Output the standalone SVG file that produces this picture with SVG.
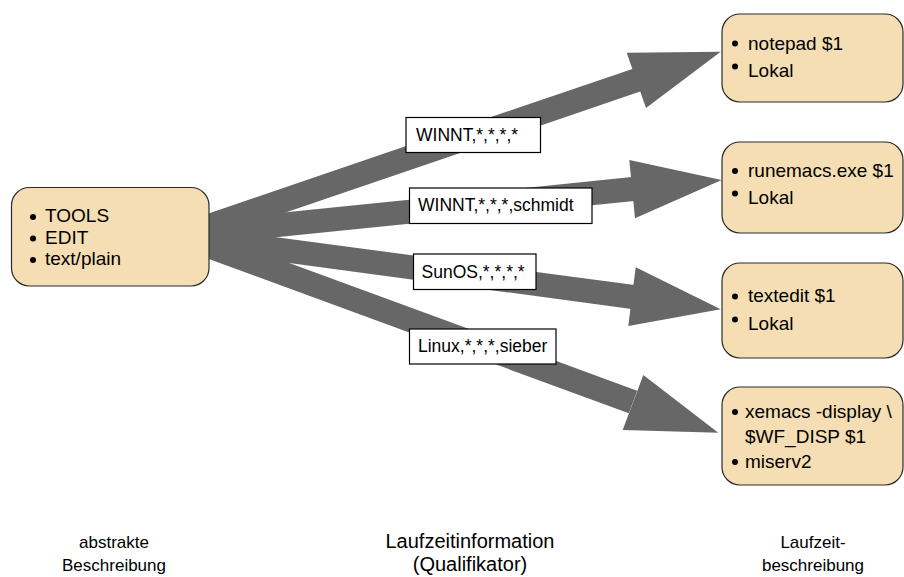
<svg xmlns="http://www.w3.org/2000/svg" width="904" height="577" viewBox="0 0 904 577">
<style>
.box{fill:#f5deb3;stroke:#2a2a2a;stroke-width:1.2}
.t{font-family:"Liberation Sans",Arial,sans-serif;font-size:19px;fill:#000}
.lt{font-family:"Liberation Sans",Arial,sans-serif;font-size:17.5px;fill:#000}
.bt{font-family:"Liberation Sans",Arial,sans-serif;font-size:17px;fill:#000;text-anchor:middle}
.bm{font-size:20px}
.shaft{stroke:#676767;stroke-width:24;stroke-linecap:butt}
.head{fill:#676767}
.lbl{fill:#fff;stroke:#000;stroke-width:1.2}
.bul{fill:#000}
</style>
<rect width="904" height="577" fill="#fff"/>
<g id="connectors">
  <line class="shaft" x1="200" y1="229" x2="637" y2="80"/>
  <polygon class="head" points="626.7,52.7 720.7,51.7 646,108"/>
  <line class="shaft" x1="200" y1="233" x2="633" y2="189"/>
  <polygon class="head" points="629.3,160 721.7,180 635,218.3"/>
  <line class="shaft" x1="200" y1="239" x2="633" y2="297"/>
  <polygon class="head" points="635.7,267.3 720.7,309.3 628.3,326"/>
  <line class="shaft" x1="200" y1="243" x2="633" y2="402"/>
  <polygon class="head" points="643.3,375 718.3,432.7 622.7,430"/>
  <g id="label1"><rect class="lbl" x="406" y="117.5" width="134.5" height="35"/><text class="lt" x="416" y="141">WINNT,*,*,*,*</text></g>
  <g id="label2"><rect class="lbl" x="409.5" y="188" width="182.5" height="35.5"/><text class="lt" x="418" y="211">WINNT,*,*,*,schmidt</text></g>
  <g id="label3"><rect class="lbl" x="413.5" y="254" width="122.5" height="35.5"/><text class="lt" x="421.5" y="278">SunOS,*,*,*,*</text></g>
  <g id="label4"><rect class="lbl" x="409.5" y="329" width="146.5" height="35"/><text class="lt" x="418" y="352">Linux,*,*,*,sieber</text></g>
</g>
<g id="source">
  <rect class="box" x="11.5" y="187.5" width="197.5" height="98.5" rx="18"/>
  <circle class="bul" cx="33" cy="217" r="3"/><text class="t" x="45" y="222">TOOLS</text>
  <circle class="bul" cx="33" cy="238.5" r="3"/><text class="t" x="45" y="243.5">EDIT</text>
  <circle class="bul" cx="33" cy="260" r="3"/><text class="t" x="45" y="265">text/plain</text>
</g>
<g id="target1">
  <rect class="box" x="722" y="14" width="181" height="88" rx="18"/>
  <circle class="bul" cx="735" cy="43.5" r="3"/><text class="t" x="748" y="49.5">notepad $1</text>
  <circle class="bul" cx="735" cy="66.5" r="3"/><text class="t" x="748" y="76.5">Lokal</text>
</g>
<g id="target2">
  <rect class="box" x="722" y="142" width="181" height="91" rx="18"/>
  <circle class="bul" cx="735" cy="171" r="3"/><text class="t" x="748" y="176.5">runemacs.exe $1</text>
  <circle class="bul" cx="735" cy="193.5" r="3"/><text class="t" x="748" y="203.5">Lokal</text>
</g>
<g id="target3">
  <rect class="box" x="722" y="263" width="181" height="95" rx="18"/>
  <circle class="bul" cx="735" cy="296.5" r="3"/><text class="t" x="748" y="302">textedit $1</text>
  <circle class="bul" cx="735" cy="319.5" r="3"/><text class="t" x="748" y="329.5">Lokal</text>
</g>
<g id="target4">
  <rect class="box" x="722" y="387" width="181" height="98" rx="18"/>
  <circle class="bul" cx="735" cy="412" r="3"/><text class="t" x="745" y="417.5">xemacs -display \</text>
  <text class="t" x="745" y="442.5">$WF_DISP $1</text>
  <circle class="bul" cx="735" cy="462" r="3"/><text class="t" x="745" y="467.5">miserv2</text>
</g>
<g id="captions">
  <text class="bt" x="114" y="548">abstrakte</text>
  <text class="bt" x="114" y="571">Beschreibung</text>
  <text class="bt bm" x="470" y="548">Laufzeitinformation</text>
  <text class="bt bm" x="470" y="571">(Qualifikator)</text>
  <text class="bt" x="813" y="548">Laufzeit-</text>
  <text class="bt" x="813" y="571">beschreibung</text>
</g>
</svg>
